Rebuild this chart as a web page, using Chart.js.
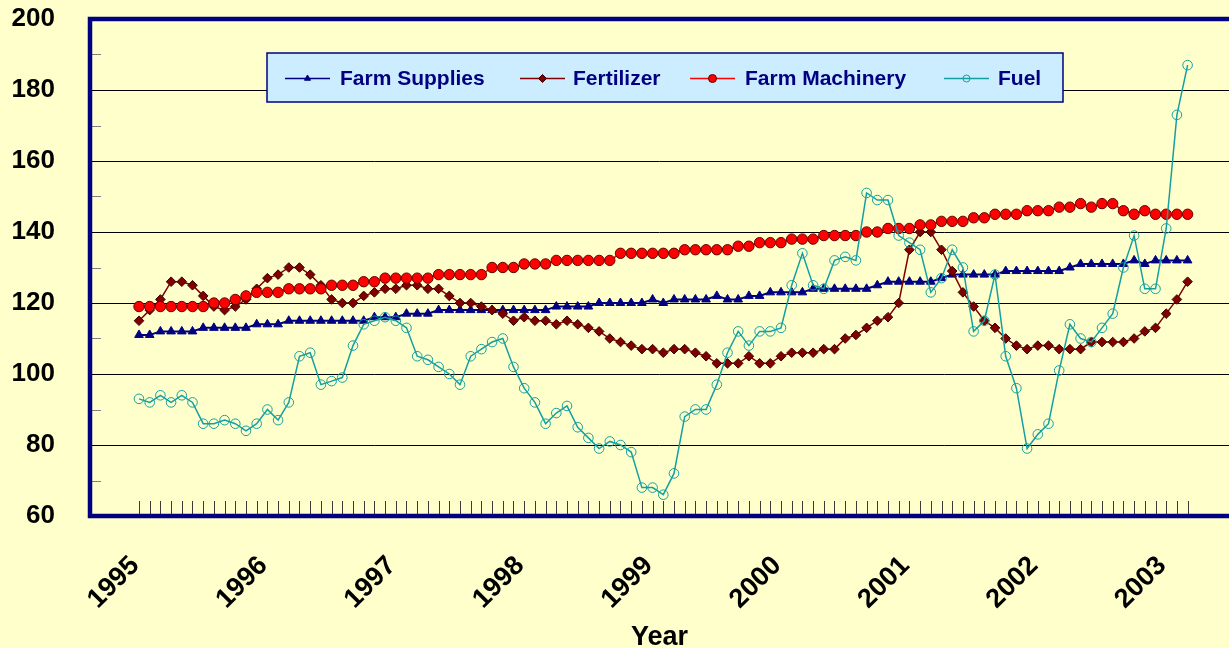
<!DOCTYPE html>
<html><head><meta charset="utf-8">
<script src="https://cdn.jsdelivr.net/npm/chart.js@4.4.0/dist/chart.umd.min.js"></script>
<style>
html,body{margin:0;padding:0;background:#FFFFCC;overflow:hidden;}
#wrap{position:relative;width:1229px;height:648px;}
</style></head><body>
<div id="wrap"><canvas id="c" width="1229" height="648"></canvas></div>
<script>
const years = ['1995','1996','1997','1998','1999','2000','2001','2002','2003'];
const yLabels = [60, 80, 100, 120, 140, 160, 180, 200];
const seriesNames = ['Farm Supplies', 'Fertilizer', 'Farm Machinery', 'Fuel'];

const farmSupplies = [
  111,111,112,112,112,112,113,113,113,113,
  113,114,114,114,115,115,115,115,115,115,
  115,115,116,116,116,117,117,117,118,118,
  118,118,118,118,118,118,118,118,118,119,
  119,119,119,120,120,120,120,120,121,120,
  121,121,121,121,122,121,121,122,122,123,
  123,123,123,124,124,124,124,124,124,125,
  126,126,126,126,126,127,128,128,128,128,
  128,129,129,129,129,129,129,130,131,131,
  131,131,131,132,131,132,132,132,132];
const fertilizer = [
  115,118,121,126,126,125,122,119,118,119,
  121,124,127,128,130,130,128,125,121,120,
  120,122,123,124,124,125,125,124,124,122,
  120,120,119,118,117,115,116,115,115,114,
  115,114,113,112,110,109,108,107,107,106,
  107,107,106,105,103,103,103,105,103,103,
  105,106,106,106,107,107,110,111,113,115,
  116,120,135,140,140,135,129,123,119,115,
  113,110,108,107,108,108,107,107,107,109,
  109,109,109,110,112,113,117,121,126];
const farmMachinery = [
  119,119,119,119,119,119,119,120,120,121,
  122,123,123,123,124,124,124,124,125,125,
  125,126,126,127,127,127,127,127,128,128,
  128,128,128,130,130,130,131,131,131,132,
  132,132,132,132,132,134,134,134,134,134,
  134,135,135,135,135,135,136,136,137,137,
  137,138,138,138,139,139,139,139,140,140,
  141,141,141,142,142,143,143,143,144,144,
  145,145,145,146,146,146,147,147,148,147,
  148,148,146,145,146,145,145,145,145];
const fuel = [
  93,92,94,92,94,92,86,86,87,86,
  84,86,90,87,92,105,106,97,98,99,
  108,114,115,116,115,113,105,104,102,100,
  97,105,107,109,110,102,96,92,86,89,
  91,85,82,79,81,80,78,68,68,66,
  72,88,90,90,97,106,112,108,112,112,
  113,125,134,125,124,132,133,132,151,149,
  149,139,137,135,123,127,135,130,112,115,
  128,105,96,79,83,86,101,114,110,109,
  113,117,130,139,124,124,141,173,187];

const FONT = "'Liberation Sans', Arial, sans-serif";
const NAVY = '#000080';
const pts = arr => arr.map((v, i) => ({x: i, y: v}));

const styles = [
  {color: NAVY, style: 'triangle', r: 5, fill: NAVY, stroke: NAVY, order: 3, lr: 3.5, lw: 2},
  {color: '#800000', style: 'rectRot', r: 4.8, fill: '#800000', stroke: '#3a0000', order: 2, lr: 4, lw: 1.5},
  {color: '#FF0000', style: 'circle', r: 5.2, fill: '#FF0000', stroke: '#600000', order: 1, lr: 4, lw: 1.5},
  {color: '#14A0A0', style: 'circle', r: 4.8, fill: 'rgba(0,0,0,0)', stroke: '#14A0A0', order: 0, lr: 3.5, lw: 1.5}
];
const allSeries = [farmSupplies, fertilizer, farmMachinery, fuel];

const datasets = allSeries.map((arr, k) => ({
  label: seriesNames[k],
  data: pts(arr),
  borderColor: styles[k].color,
  borderWidth: styles[k].lw,
  pointStyle: styles[k].style,
  pointRadius: styles[k].r,
  pointBackgroundColor: styles[k].fill,
  pointBorderColor: styles[k].stroke,
  pointBorderWidth: 1,
  tension: 0,
  order: styles[k].order
}));

const legendPos = [
  {line: 285, text: 340},
  {line: 520, text: 573},
  {line: 690, text: 745},
  {line: 944, text: 998}
];

const framePlugin = {
  id: 'frame',
  beforeDatasetsDraw(chart) {
    const {ctx, chartArea: {left, top, right, bottom}, scales: {x, y}} = chart;
    ctx.save();
    ctx.lineWidth = 1;
    ctx.strokeStyle = '#808080';
    y.ticks.forEach(t => {
      if (t.value % 20 !== 0) {
        const py = Math.round(y.getPixelForValue(t.value)) + 0.5;
        ctx.beginPath(); ctx.moveTo(left, py); ctx.lineTo(left + 11, py); ctx.stroke();
      }
    });
    ctx.strokeStyle = '#3a3a3a';
    x.ticks.forEach(t => {
      const px = Math.round(x.getPixelForValue(t.value)) + 0.5;
      ctx.beginPath(); ctx.moveTo(px, bottom - 15); ctx.lineTo(px, bottom); ctx.stroke();
    });
    ctx.strokeStyle = NAVY;
    ctx.lineWidth = 4.5;
    ctx.beginPath();
    ctx.moveTo(right + 5, top); ctx.lineTo(left, top); ctx.lineTo(left, bottom); ctx.lineTo(right + 5, bottom);
    ctx.stroke();
    ctx.restore();
  },
  afterDatasetsDraw(chart) {
    const {ctx} = chart;
    ctx.save();
    ctx.fillStyle = '#CCECFF';
    ctx.fillRect(267, 53, 796, 49);
    ctx.strokeStyle = NAVY;
    ctx.lineWidth = 1.5;
    ctx.strokeRect(267, 53, 796, 49);
    const ly = 78;
    seriesNames.forEach((name, k) => {
      const s = styles[k];
      const lx = legendPos[k].line;
      ctx.strokeStyle = s.color;
      ctx.lineWidth = 1.5;
      ctx.beginPath(); ctx.moveTo(lx, ly + 0.5); ctx.lineTo(lx + 45, ly + 0.5); ctx.stroke();
      ctx.fillStyle = s.fill;
      ctx.strokeStyle = s.stroke;
      ctx.lineWidth = 1;
      Chart.helpers.drawPoint(ctx, {pointStyle: s.style, radius: s.lr, rotation: 0, borderWidth: 1}, lx + 22.5, ly + 0.5);
      ctx.fillStyle = NAVY;
      ctx.font = 'bold 21px ' + FONT;
      ctx.textAlign = 'left';
      ctx.textBaseline = 'middle';
      ctx.fillText(name, legendPos[k].text, ly + 1);
    });
    ctx.restore();
  }
};

new Chart(document.getElementById('c'), {
  type: 'line',
  data: {datasets},
  options: {
    responsive: false,
    animation: false,
    devicePixelRatio: 1,
    layout: {autoPadding: false, padding: {top: 19, right: 0, left: 0, bottom: 0}},
    plugins: {legend: {display: false}, tooltip: {enabled: false}},
    scales: {
      x: {
        type: 'linear',
        min: -4.579,
        max: 101.869,
        afterBuildTicks: s => { s.ticks = farmSupplies.map((_, i) => ({value: i})); },
        afterFit: s => { s.height = 132; s.paddingLeft = 0; s.paddingRight = 0; },
        grid: {display: false, drawTicks: false},
        border: {display: false},
        ticks: {
          autoSkip: false,
          minRotation: 45,
          maxRotation: 45,
          padding: 34,
          labelOffset: -4,
          color: '#000',
          font: {family: FONT, size: 27, weight: 'bold'},
          callback: v => (v % 12 === 0 ? years[v / 12] : '')
        },
        title: {
          display: true,
          text: 'Year',
          color: '#000',
          font: {family: FONT, size: 27, weight: 'bold', lineHeight: 0.8},
          padding: {top: 0, bottom: 0}
        }
      },
      y: {
        type: 'linear',
        min: 60,
        max: 200,
        afterFit: s => { s.width = 90; s.paddingTop = 0; s.paddingBottom = 0; },
        ticks: {
          stepSize: 10,
          padding: 35,
          color: '#000',
          font: {family: FONT, size: 26, weight: 'bold'},
          callback: v => (yLabels.includes(v) ? String(v) : '')
        },
        grid: {
          drawTicks: false,
          lineWidth: 1,
          color: c => (c.tick && c.tick.value % 20 === 0 && c.tick.value !== 60 && c.tick.value !== 200) ? '#000000' : 'rgba(0,0,0,0)'
        },
        border: {display: false}
      }
    }
  },
  plugins: [framePlugin]
});
</script>
</body></html>
